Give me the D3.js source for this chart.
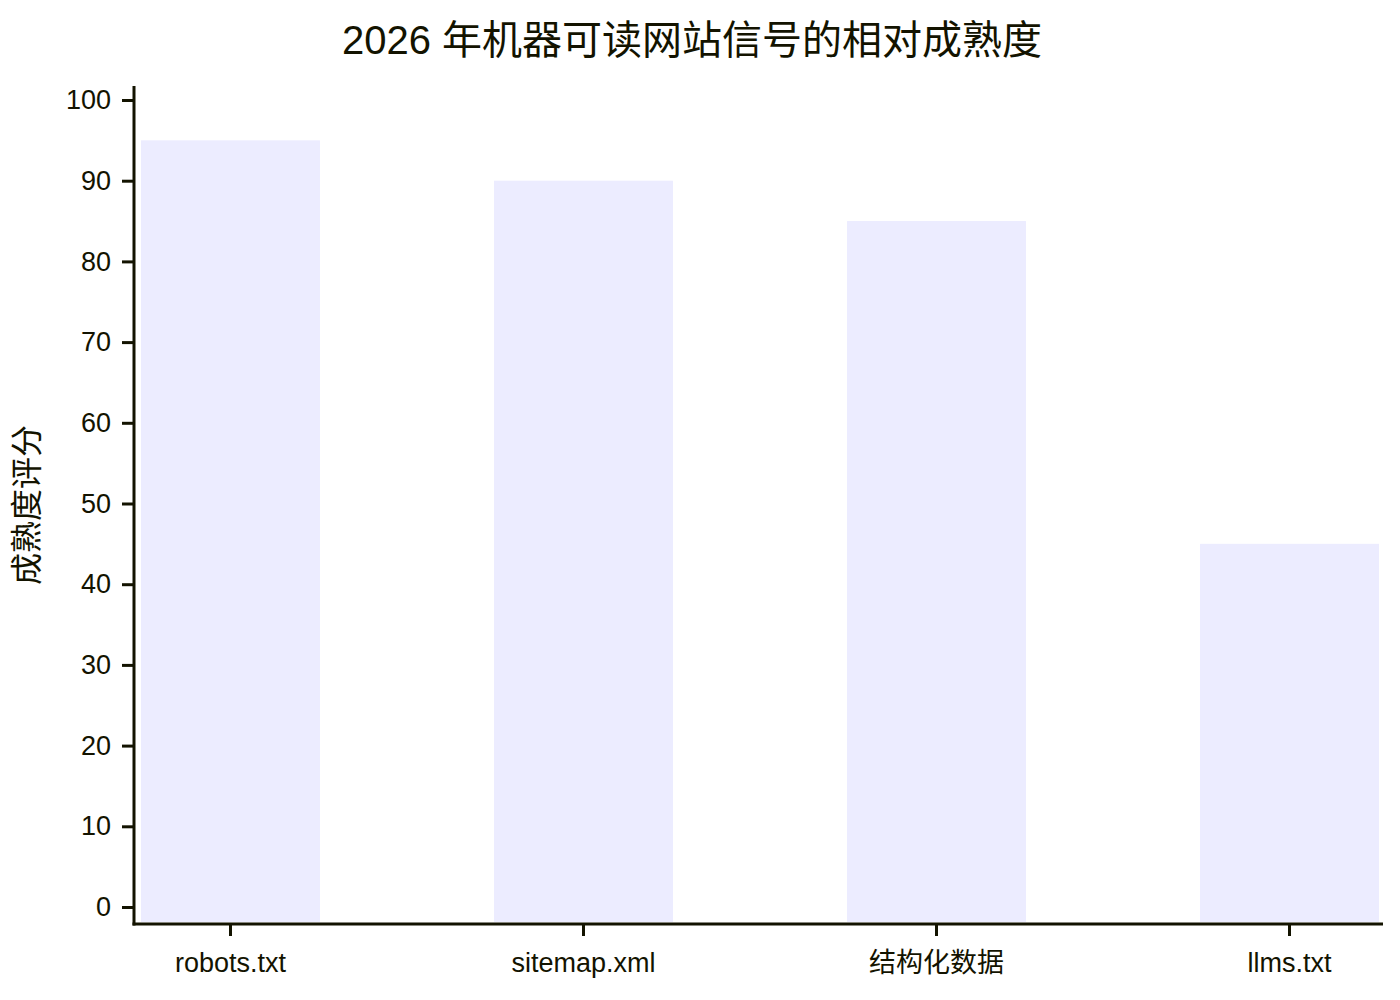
<!DOCTYPE html>
<html>
<head>
<meta charset="utf-8">
<script src="https://cdn.jsdelivr.net/npm/d3@7"></script>
<style>
  body { margin: 0; background: #fff; }
  text { font-family: "Liberation Sans", Arial, "Noto Sans CJK SC", sans-serif; fill: #131300; }
</style>
</head>
<body>
<div id="chart"></div>
<script>
// data
const title = '2026 年机器可读网站信号的相对成熟度';
const yLabel = '成熟度评分';
const categories = ['robots.txt', 'sitemap.xml', '结构化数据', 'llms.txt'];
const scores = [95, 90, 85, 45];
const yTicks = [0, 10, 20, 30, 40, 50, 60, 70, 80, 90, 100];

// config
const width = 1400, height = 1000;
const axisColor = '#131300';
const barColor = '#ECECFF';
const plot = { left: 134, right: 1383, top: 86, bottom: 924 };

const svg = d3.select('#chart')
  .append('svg')
  .attr('width', width)
  .attr('height', height);

// scales
const x = d3.scaleBand()
  .domain(categories)
  .range([141, 1379])
  .paddingInner(0.493)
  .paddingOuter(0);

const y = d3.scaleLinear()
  .domain([0, 100])
  .range([907, 100]);

// bars
svg.append('g')
  .selectAll('rect')
  .data(categories)
  .enter()
  .append('rect')
  .attr('x', d => x(d))
  .attr('width', x.bandwidth())
  .attr('y', (d, i) => y(scores[i]))
  .attr('height', (d, i) => 922 - y(scores[i]))
  .attr('fill', barColor);

// y axis
const yAxis = svg.append('g')
  .attr('transform', `translate(${plot.left},0)`)
  .call(d3.axisLeft(y).tickValues(yTicks).tickSize(12).tickPadding(11));
yAxis.select('.domain').remove();
yAxis.selectAll('.tick line').attr('stroke', axisColor).attr('stroke-width', 3);
yAxis.selectAll('.tick text').attr('font-size', 27).attr('fill', axisColor);
svg.append('line')
  .attr('x1', plot.left).attr('x2', plot.left)
  .attr('y1', plot.top).attr('y2', plot.bottom + 1.5)
  .attr('stroke', axisColor).attr('stroke-width', 3);

// x axis
const xAxis = svg.append('g')
  .attr('transform', `translate(0,${plot.bottom})`)
  .call(d3.axisBottom(x).tickSize(12).tickPadding(17));
xAxis.select('.domain').remove();
xAxis.selectAll('.tick line').attr('stroke', axisColor).attr('stroke-width', 3);
xAxis.selectAll('.tick text').attr('font-size', 27).attr('fill', axisColor);
svg.append('line')
  .attr('x1', plot.left - 1.5).attr('x2', plot.right)
  .attr('y1', plot.bottom).attr('y2', plot.bottom)
  .attr('stroke', axisColor).attr('stroke-width', 3);

// title
svg.append('text')
  .attr('x', 692)
  .attr('y', 54)
  .attr('text-anchor', 'middle')
  .attr('font-size', 40)
  .text(title);

// y label
svg.append('text')
  .attr('transform', 'translate(38,505) rotate(-90)')
  .attr('text-anchor', 'middle')
  .attr('font-size', 32)
  .text(yLabel);
</script>
</body>
</html>
